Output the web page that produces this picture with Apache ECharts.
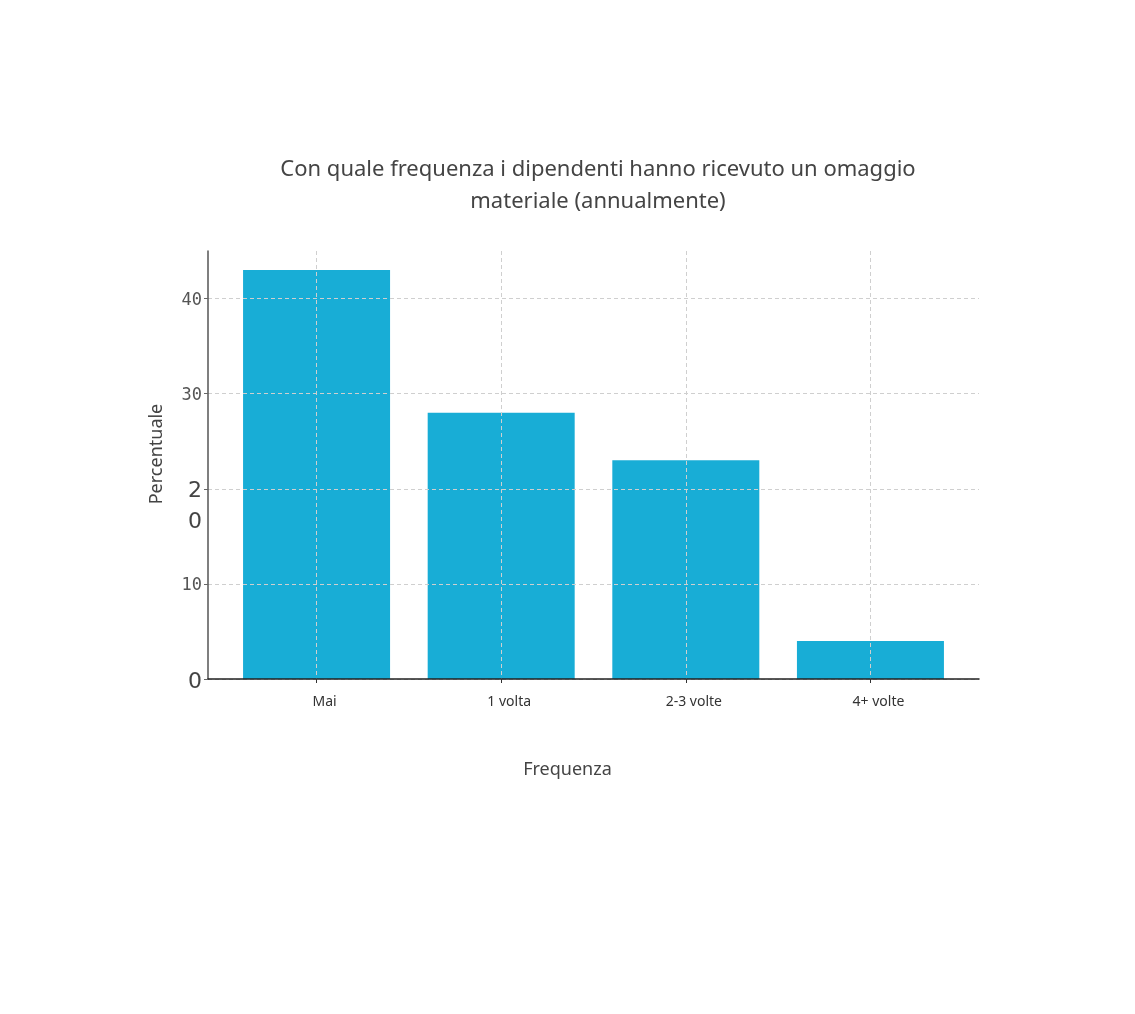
<!DOCTYPE html>
<html>
<head>
<meta charset="utf-8">
<script src="https://cdn.jsdelivr.net/npm/echarts@6/dist/echarts.min.js"></script>
<style>
  html, body { margin: 0; padding: 0; background: #fff; }
  #chart { width: 1135px; height: 1014px; }
</style>
</head>
<body>
<div id="chart"></div>
<script>
const titleLines = ['Con quale frequenza i dipendenti hanno ricevuto un omaggio', 'materiale (annualmente)'];
const categories = ['Mai', '1 volta', '2-3 volte', '4+ volte'];
const values = [43, 28, 23, 4];
const yTicks = [0, 10, 20, 30, 40];
const xPositions = [0, 1, 2, 3];

const chart = echarts.init(document.getElementById('chart'));

const gridLine = { show: true, lineStyle: { color: '#cfcfcf', type: [4, 3], width: 1 } };

chart.setOption({
  animation: false,
  title: {
    text: titleLines.join('\n'),
    left: 593,
    top: 149,
    textAlign: 'center',
    textStyle: {
      fontFamily: 'Noto Sans',
      fontSize: 22,
      fontWeight: 'normal',
      color: '#444',
      lineHeight: 32
    }
  },
  grid: { left: 208, right: 156, top: 251, bottom: 335 },
  xAxis: {
    type: 'value',
    min: -0.588,
    max: 3.588,
    z: 5,
    name: 'Frequenza',
    nameLocation: 'middle',
    nameGap: 82,
    nameTextStyle: { fontFamily: 'Noto Sans', fontSize: 18, color: '#444', padding: [0, 52, 0, 0] },
    axisLine: { show: true, onZero: false, lineStyle: { color: '#222', width: 1.5 } },
    axisTick: { show: true, customValues: xPositions, length: 4, lineStyle: { color: '#333' } },
    axisLabel: {
      customValues: xPositions,
      margin: 16,
      fontFamily: 'Noto Sans',
      fontSize: 14,
      color: '#333',
      padding: [0, 0, 0, 16],
      formatter: v => categories[Math.round(v)] || ''
    },
    splitLine: gridLine
  },
  yAxis: {
    type: 'value',
    min: 0,
    max: 45,
    z: 5,
    name: 'Percentuale',
    nameLocation: 'middle',
    nameGap: 42,
    nameTextStyle: { fontFamily: 'Noto Sans', fontSize: 18, color: '#444', padding: [0, 0, 0, 22] },
    axisLine: { show: true, onZero: false, lineStyle: { color: '#555', width: 1.5 } },
    axisTick: { show: true, customValues: yTicks, length: 4, lineStyle: { color: '#666' } },
    axisLabel: {
      customValues: yTicks,
      margin: 6,
      formatter: v => {
        if (v === 20) return '{gap| }\n{big|2}\n{big|0}';
        if (v === 0) return '{big|0}';
        return '{mono|' + v + '}';
      },
      rich: {
        mono: { fontFamily: 'DejaVu Sans Mono', fontSize: 17, color: '#555', padding: [4, 0, 0, 0] },
        big: { fontFamily: 'DejaVu Sans', fontSize: 22, lineHeight: 31, color: '#444', align: 'right', padding: [6, 0, 0, 0] },
        gap: { fontSize: 10, lineHeight: 31 }
      }
    },
    splitLine: gridLine
  },
  series: [{
    type: 'bar',
    barWidth: 147,
    itemStyle: { color: '#18ADD6' },
    data: xPositions.map((x, i) => [x, values[i]])
  }]
});
</script>
</body>
</html>
